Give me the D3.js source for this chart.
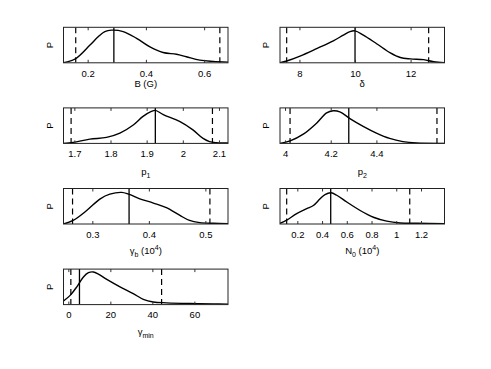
<!DOCTYPE html>
<html>
<head>
<meta charset="utf-8">
<script src="https://cdn.jsdelivr.net/npm/d3@7"></script>
<style>
    body { margin: 0; background: #fff; }
    text { font-family: "Liberation Sans", Arial, sans-serif; fill: #000; }
</style>
</head>
<body>
<script>
// Posterior distributions, one panel per parameter
const bX = [0.117, 0.159, 0.208, 0.237, 0.259, 0.282, 0.322, 0.368, 0.414, 0.459, 0.505, 0.539, 0.585, 0.631, 0.682];
const bP = [0.0, 0.12, 0.5, 0.74, 0.88, 0.92, 0.88, 0.69, 0.45, 0.29, 0.24, 0.17, 0.075, 0.04, 0.02];

const deltaX = [7.30, 7.54, 8.02, 8.62, 9.22, 9.58, 9.82, 10.0, 10.30, 10.79, 11.27, 11.63, 11.99, 12.47, 12.83, 13.22];
const deltaP = [0.0, 0.05, 0.19, 0.40, 0.62, 0.78, 0.88, 0.90, 0.78, 0.53, 0.28, 0.15, 0.11, 0.09, 0.03, 0.0];

const p1X = [1.670, 1.697, 1.743, 1.789, 1.826, 1.863, 1.890, 1.913, 1.924, 1.946, 1.991, 2.028, 2.056, 2.074, 2.093, 2.125];
const p1P = [0.0, 0.03, 0.12, 0.17, 0.29, 0.52, 0.76, 0.90, 0.93, 0.81, 0.62, 0.38, 0.14, 0.05, 0.02, 0.01];

const p2X = [3.978, 4.022, 4.080, 4.138, 4.182, 4.211, 4.240, 4.284, 4.342, 4.400, 4.458, 4.516, 4.575, 4.698];
const p2P = [0.0, 0.07, 0.26, 0.57, 0.86, 0.92, 0.89, 0.70, 0.48, 0.29, 0.14, 0.05, 0.01, 0.0];

const gbX = [0.249, 0.266, 0.290, 0.314, 0.331, 0.352, 0.364, 0.384, 0.408, 0.431, 0.455, 0.472, 0.490, 0.514, 0.540];
const gbP = [0.0, 0.10, 0.38, 0.71, 0.84, 0.89, 0.84, 0.71, 0.59, 0.46, 0.24, 0.10, 0.04, 0.02, 0.01];

const n0X = [0.060, 0.114, 0.195, 0.276, 0.330, 0.384, 0.424, 0.473, 0.519, 0.600, 0.708, 0.815, 0.923, 1.031, 1.166, 1.390];
const n0P = [0.02, 0.11, 0.29, 0.43, 0.52, 0.71, 0.83, 0.88, 0.81, 0.62, 0.38, 0.19, 0.08, 0.03, 0.02, 0.01];

const gmX = [-2.3, 0.86, 4.03, 7.19, 9.57, 11.9, 14.3, 18.3, 24.6, 30.9, 35.7, 40.4, 46.7, 57.8, 68.9, 76.0];
const gmP = [0.10, 0.26, 0.50, 0.78, 0.90, 0.92, 0.86, 0.71, 0.50, 0.31, 0.15, 0.075, 0.05, 0.03, 0.02, 0.01];

const curvesX = [bX, deltaX, p1X, p2X, gbX, n0X, gmX];
const curvesP = [bP, deltaP, p1P, p2P, gbP, n0P, gmP];

// best fit (solid) and confidence limits (dashed)
const bestFit  = [0.290, 10.0, 1.924, 4.279, 0.365, 0.470, 5.3];
const lowerLim = [0.159, 7.54, 1.691, 4.022, 0.265, 0.114, 1.2];
const upperLim = [0.654, 12.65, 2.082, 4.665, 0.508, 1.109, 44.4];

const xDomains = [[0.117, 0.682], [7.30, 13.22], [1.670, 2.125], [3.978, 4.698],
                  [0.249, 0.540], [0.06, 1.39], [-2.3, 76.0]];
const xTicks = [[0.2, 0.4, 0.6], [8, 10, 12], [1.7, 1.8, 1.9, 2, 2.1], [4, 4.2, 4.4],
                [0.3, 0.4, 0.5], [0.2, 0.4, 0.6, 0.8, 1, 1.2], [0, 20, 40, 60]];

// label pieces: [text, 0 normal / -1 subscript / 1 superscript]
const xLabels = [
    [["B (G)", 0]],
    [["δ", 0]],
    [["p", 0], ["1", -1]],
    [["p", 0], ["2", -1]],
    [["γ", 0], ["b", -1], [" (10", 0], ["4", 1], [")", 0]],
    [["N", 0], ["0", -1], [" (10", 0], ["4", 1], [")", 0]],
    [["γ", 0], ["min", -1]]
];

// Layout
const W = 491, H = 369,
    colX = [63.5, 280], boxW = 164.5, boxH = 35.5,
    rowY0 = 27.3, rowStep = 80.6,
    labelBase = [24, 24, 32, 32, 29.5, 29.5, 30],
    fontSize = 9.5;

const svg = d3.select("body").append("svg")
    .attr("width", W)
    .attr("height", H);

svg.append("rect")
    .attr("width", W)
    .attr("height", H)
    .attr("fill", "#fff");

curvesX.forEach((xs, i) => {
    const col = i % 2, row = Math.floor(i / 2);
    const x = d3.scaleLinear().domain(xDomains[i]).range([0, boxW]),
        y = d3.scaleLinear().domain([0, 1]).range([boxH, 0]);

    const g = svg.append("g")
        .attr("transform", `translate(${colX[col]},${rowY0 + row * rowStep})`);

    g.append("clipPath")
        .attr("id", "clip" + i)
      .append("rect")
        .attr("width", boxW)
        .attr("height", boxH);

    const plot = g.append("g").attr("clip-path", `url(#clip${i})`);

    // confidence limits
    plot.selectAll("line.lim")
        .data([lowerLim[i], upperLim[i]])
        .join("line")
            .attr("class", "lim")
            .attr("x1", d => x(d)).attr("x2", d => x(d))
            .attr("y1", 0).attr("y2", boxH)
            .attr("stroke", "#000")
            .attr("stroke-width", 1.2)
            .attr("stroke-dasharray", "6,4");

    plot.append("line")
        .attr("x1", x(bestFit[i])).attr("x2", x(bestFit[i]))
        .attr("y1", 0).attr("y2", boxH)
        .attr("stroke", "#000")
        .attr("stroke-width", 1.3);

    const line = d3.line()
        .x(d => x(d[0]))
        .y(d => y(d[1]))
        .curve(d3.curveCatmullRom.alpha(0.5));

    plot.append("path")
        .datum(xs.map((v, k) => [v, curvesP[i][k]]))
        .attr("d", line)
        .attr("fill", "none")
        .attr("stroke", "#000")
        .attr("stroke-width", 1.4);

    // ticks inside the box, bottom and top
    const bottom = g.append("g")
        .attr("transform", `translate(0,${boxH})`)
        .call(d3.axisBottom(x).tickValues(xTicks[i]).tickSize(-3).tickPadding(7).tickFormat(d => d));
    const top = g.append("g")
        .call(d3.axisTop(x).tickValues(xTicks[i]).tickSize(-3).tickFormat(""));
    [bottom, top].forEach(a => {
        a.select(".domain").remove();
        a.selectAll("line").attr("stroke", "#333");
        a.selectAll("text")
            .style("font-family", "'Liberation Sans', Arial, sans-serif")
            .style("font-size", fontSize + "px");
    });

    g.append("rect")
        .attr("width", boxW)
        .attr("height", boxH)
        .attr("fill", "none")
        .attr("stroke", "#222")
        .attr("stroke-width", 1);

    // y label
    g.append("text")
        .attr("transform", `translate(${-14},${boxH / 2}) rotate(-90)`)
        .attr("text-anchor", "middle")
        .attr("dy", "0.35em")
        .style("font-size", fontSize + "px")
        .text("P");

    // x label with sub/superscripts
    const lab = g.append("text")
        .attr("x", boxW / 2)
        .attr("y", boxH + labelBase[i])
        .attr("text-anchor", "middle")
        .style("font-size", fontSize + "px");
    let shift = 0;
    xLabels[i].forEach(([t, s]) => {
        const target = s === -1 ? 3 : s === 1 ? -4 : 0;
        lab.append("tspan")
            .attr("dy", target - shift)
            .style("font-size", (s ? 7 : fontSize) + "px")
            .text(t);
        shift = target;
    });
});
</script>
</body>
</html>
